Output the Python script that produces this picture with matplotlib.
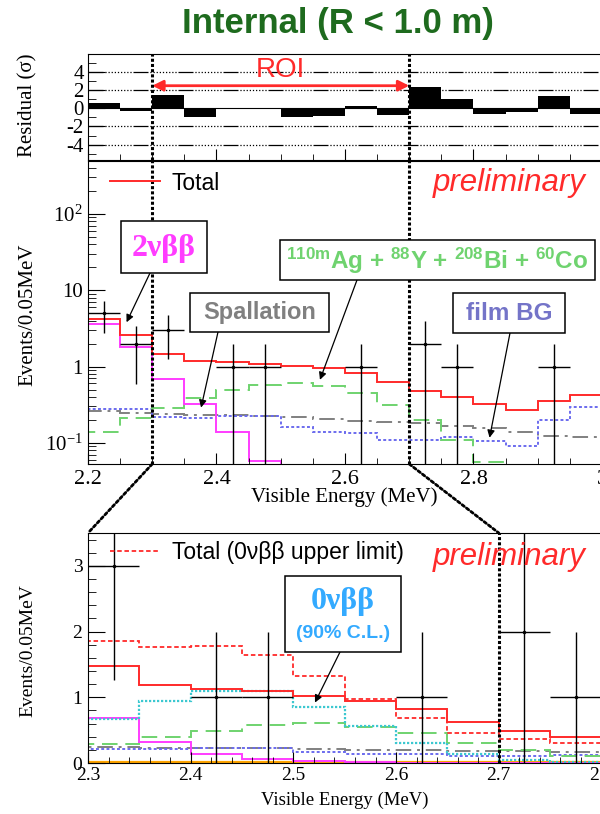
import numpy as np
import matplotlib.pyplot as plt
from matplotlib.patches import Rectangle, ConnectionPatch
from matplotlib.ticker import MultipleLocator, LogLocator, NullFormatter

plt.rcParams['font.family'] = ['Liberation Sans', 'DejaVu Sans']
plt.rcParams['mathtext.fontset'] = 'custom'
plt.rcParams['mathtext.rm'] = 'Liberation Serif'
plt.rcParams['mathtext.bf'] = 'Liberation Sans:bold'
plt.rcParams['mathtext.default'] = 'rm'
SERIF = ['Liberation Serif', 'DejaVu Serif']

# ---- data : 0.05 MeV bins, given by their low edge ----
bin_lo = [2.15, 2.20, 2.25, 2.30, 2.35, 2.40, 2.45, 2.50, 2.55,
          2.60, 2.65, 2.70, 2.75, 2.80, 2.85, 2.90, 2.95]
last_edge = 3.00
total_fit = [7.5, 4.2, 2.55, 1.48, 1.19, 1.13, 1.09, 1.02, 0.95,
             0.82, 0.63, 0.48, 0.40, 0.325, 0.27, 0.35, 0.42]
two_nu = [6.0, 3.6, 1.8, 0.69, 0.32, 0.14, 0.058, 0.025, 0.012,
          0.006, 0.003, 0.002, 0.001, 0.001, 0.001, 0.001, 0.001]
ag_y_bi_co = [0.07, 0.14, 0.21, 0.29, 0.39, 0.49, 0.58, 0.61, 0.55,
              0.45, 0.31, 0.20, 0.11, 0.056, 0.02, 0.01, 0.01]
spallation = [0.26, 0.26, 0.25, 0.24, 0.235, 0.23, 0.225, 0.22, 0.205,
              0.195, 0.19, 0.18, 0.165, 0.155, 0.14, 0.125, 0.12]
film_bg = [0.28, 0.28, 0.28, 0.22, 0.21, 0.225, 0.225, 0.16, 0.14,
           0.135, 0.11, 0.11, 0.12, 0.105, 0.092, 0.20, 0.295]

# 0vbb upper-limit fit (only in the zoomed panel), bins 2.25 .. 2.80
ul_lo = [2.25, 2.30, 2.35, 2.40, 2.45, 2.50, 2.55, 2.60, 2.65, 2.70, 2.75]
ul_last = 2.80
zero_nu_ul = [0.40, 0.67, 0.95, 1.10, 1.09, 0.85, 0.56, 0.30, 0.135, 0.05, 0.02]
total_ul = [2.75, 1.86, 1.76, 1.78, 1.65, 1.32, 0.97, 0.69, 0.46, 0.36, 0.305]
other_bg = [0.01, 0.01, 0.01, 0.01, 0.01, 0.01, 0.01, 0.01, 0.01, 0.01, 0.01]

# data points
data_e = [2.225, 2.275, 2.325, 2.425, 2.475, 2.625, 2.725, 2.775, 2.925]
data_n = [5, 2, 3, 1, 1, 1, 2, 1, 1]
err_dn = [2.24, 1.41, 1.73, 1.0, 1.0, 1.0, 2.0, 1.0, 1.0]
err_up = [2.24, 1.41, 1.73, 1.0, 1.0, 1.0, 1.9, 1.0, 1.0]

# residuals, bins 2.20 .. 2.95
resid = [0.64, -0.25, 1.5, -1.0, -0.05, -0.03, -1.0, -0.86,
         0.29, -0.68, 2.36, 1.07, -0.57, -0.43, 1.32, -0.57]

roi = (2.3, 2.7)

edges = bin_lo + [last_edge]
ul_edges = ul_lo + [ul_last]
res_centers = np.array(bin_lo[1:]) + 0.025

RED = '#ff2a2a'
PINK = '#ff3cff'
GREEN = '#6fd36f'
GRAY = '#808080'
BLUE = '#6b6bee'
CYAN = '#3cc8d0'

W, H = 600, 814
fx = lambda px: px / W
fy = lambda py: 1 - py / H

fig = plt.figure(figsize=(6, 8.14), dpi=100)
ax_res = fig.add_axes([fx(88), fy(160), 514 / W, (160 - 54) / H])
ax_mid = fig.add_axes([fx(88), fy(464), 514 / W, (464 - 161) / H])
ax_bot = fig.add_axes([fx(88), fy(763), 513.5 / W, (763 - 533) / H])

fig.text(fx(338), fy(24), 'Internal (R < 1.0 m)', fontsize=25, fontweight='bold',
         color='#1e6b1e', ha='center', va='center')

dotted_v = dict(color='k', lw=2.2, ls=(0, (1, 0.7)), zorder=4)

# ---- residual panel ----
ax_res.bar(res_centers, resid, width=0.05, color='k')
ax_res.axhline(0, color='k', lw=0.8)
grid_ls = (0, (12, 1.5) + (1, 1.5) * 9)
for lev in (-4, -2, 2, 4):
    ax_res.axhline(lev, color='k', lw=0.9, ls=grid_ls)
for x in roi:
    ax_res.axvline(x, **dotted_v)
ax_res.annotate('', xy=(roi[1], 2.5), xytext=(roi[0], 2.5),
                arrowprops=dict(arrowstyle='<|-|>', color=RED, lw=2,
                                mutation_scale=16, shrinkA=0, shrinkB=0))
ax_res.text(sum(roi) / 2, 4.2, 'ROI', color=RED, fontsize=20, ha='center', va='center')
ax_res.set_xlim(2.2, 3.0)
ax_res.set_ylim(-5.7, 6.0)
ax_res.set_yticks([-4, -2, 0, 2, 4])
ax_res.set_yticklabels(['-4', '-2', '0', '2', '4'])
ax_res.yaxis.set_minor_locator(MultipleLocator(1))
ax_res.xaxis.set_major_locator(MultipleLocator(0.2))
ax_res.xaxis.set_minor_locator(MultipleLocator(0.05))
ax_res.xaxis.set_major_formatter(NullFormatter())
ax_res.tick_params(axis='both', which='both', direction='in', labelfontfamily=SERIF)
ax_res.tick_params(axis='y', which='major', length=12, labelsize=15, pad=3)
ax_res.tick_params(axis='y', which='minor', length=6)
ax_res.tick_params(axis='x', which='major', length=8)
ax_res.tick_params(axis='x', which='minor', length=4)
ax_res.spines['right'].set_visible(False)
fig.text(fx(28), fy(105), 'Residual (σ)', rotation=90, fontsize=15,
         family=SERIF, ha='center', va='center')

# ---- middle (log) panel ----
ax_mid.set_yscale('log')
ax_mid.stairs(spallation, edges, baseline=None, color=GRAY, lw=1.4, ls=(0, (8, 3, 1.5, 3)))
ax_mid.stairs(film_bg, edges, baseline=None, color=BLUE, lw=1.4, ls=(0, (1.5, 1.2)))
ax_mid.stairs(ag_y_bi_co, edges, baseline=None, color=GREEN, lw=1.4, ls=(0, (8, 4)))
ax_mid.stairs(two_nu, edges, baseline=None, color=PINK, lw=1.4)
ax_mid.stairs(total_fit, edges, baseline=None, color=RED, lw=1.4, label='Total')
ax_mid.errorbar(data_e, data_n, xerr=0.025, yerr=[err_dn, err_up], fmt='.', ms=3,
                color='k', lw=1, capsize=0, zorder=5)
for x in roi:
    ax_mid.axvline(x, **dotted_v)
ax_mid.set_xlim(2.2, 3.0)
ax_mid.set_ylim(0.053, 490)
ax_mid.set_yticks([0.1, 1, 10, 100])
ax_mid.set_yticklabels([r'$10^{-1}$', '1', '10', r'$10^{2}$'])
ax_mid.yaxis.set_minor_locator(LogLocator(base=10, subs=np.arange(2, 10)))
ax_mid.yaxis.set_minor_formatter(NullFormatter())
ax_mid.set_xticks([2.2, 2.4, 2.6, 2.8, 3.0])
ax_mid.set_xticklabels(['2.2', '2.4', '2.6', '2.8', '3'])
ax_mid.xaxis.set_minor_locator(MultipleLocator(0.05))
ax_mid.tick_params(axis='both', which='both', direction='in', labelfontfamily=SERIF)
ax_mid.tick_params(axis='y', which='major', length=12, labelsize=15, pad=4)
ax_mid.tick_params(axis='y', which='minor', length=6)
ax_mid.tick_params(axis='x', which='major', length=8, labelsize=16, pad=4)
ax_mid.tick_params(axis='x', which='minor', length=4)
ax_mid.spines['right'].set_visible(False)
ax_mid.legend(loc='center left', bbox_to_anchor=(fx(110), fy(183)),
              bbox_transform=fig.transFigure, frameon=False, fontsize=16.5,
              handlelength=2.2, handletextpad=0.5, borderpad=0, borderaxespad=0)
fig.text(fx(433), fy(183), 'preliminary', color=RED, fontsize=22.5, style='italic',
         ha='left', va='center')
fig.text(fx(28), fy(315), 'Events/0.05MeV', rotation=90, fontsize=15,
         family=SERIF, ha='center', va='center')
fig.text(fx(344), fy(497), 'Visible Energy (MeV)', fontsize=15,
         family=SERIF, ha='center', va='center')

# ---- bottom (linear, zoomed) panel ----
ax_bot.stairs(other_bg, ul_edges, baseline=None, color='#ffa500', lw=1.6)
ax_bot.stairs(spallation[2:13], ul_edges, baseline=None, color=GRAY, lw=1.4, ls=(0, (8, 3, 1.5, 3)))
ax_bot.stairs(film_bg[2:13], ul_edges, baseline=None, color=BLUE, lw=1.4, ls=(0, (1.5, 1.2)))
ax_bot.stairs(ag_y_bi_co[2:13], ul_edges, baseline=None, color=GREEN, lw=1.4, ls=(0, (8, 4)))
ax_bot.stairs(two_nu[2:13], ul_edges, baseline=None, color=PINK, lw=1.4)
ax_bot.stairs(zero_nu_ul, ul_edges, baseline=None, color=CYAN, lw=1.6, ls=(0, (1, 0.8)))
ax_bot.stairs(total_fit[2:13], ul_edges, baseline=None, color=RED, lw=1.4)
ax_bot.stairs(total_ul, ul_edges, baseline=None, color=RED, lw=1.3, ls=(0, (2.5, 1.5)),
              label='Total (0νββ upper limit)')
ax_bot.errorbar(data_e, data_n, xerr=0.025, yerr=[err_dn, err_up], fmt='.', ms=3,
                color='k', lw=1, capsize=0, zorder=5)
ax_bot.axvline(roi[1], **dotted_v)
ax_bot.set_xlim(2.3, 2.8)
ax_bot.set_ylim(0, 3.5)
ax_bot.set_yticks([0, 1, 2, 3])
ax_bot.yaxis.set_minor_locator(MultipleLocator(0.2))
ax_bot.set_xticks([2.3, 2.4, 2.5, 2.6, 2.7, 2.8])
ax_bot.set_xticklabels(['2.3', '2.4', '2.5', '2.6', '2.7', '2.8'])
ax_bot.xaxis.set_minor_locator(MultipleLocator(0.02))
ax_bot.tick_params(axis='both', which='both', direction='in', labelfontfamily=SERIF)
ax_bot.tick_params(axis='y', which='major', length=12, labelsize=14, pad=4)
ax_bot.tick_params(axis='y', which='minor', length=6)
ax_bot.tick_params(axis='x', which='major', length=8, labelsize=14, pad=3)
ax_bot.tick_params(axis='x', which='minor', length=4)
ax_bot.spines['right'].set_visible(False)
ax_bot.legend(loc='center left', bbox_to_anchor=(fx(110), fy(553)),
              bbox_transform=fig.transFigure, frameon=False, fontsize=16.5,
              handlelength=2.2, handletextpad=0.5, borderpad=0, borderaxespad=0)
fig.text(fx(433), fy(557), 'preliminary', color=RED, fontsize=22.5, style='italic',
         ha='left', va='center')
fig.text(fx(28), fy(651), 'Events/0.05MeV', rotation=90, fontsize=14,
         family=SERIF, ha='center', va='center')
fig.text(fx(345), fy(800), 'Visible Energy (MeV)', fontsize=13.5,
         family=SERIF, ha='center', va='center')

# zoom connectors
for x in roi:
    con = ConnectionPatch(xyA=(x, 0.053), coordsA=ax_mid.transData,
                          xyB=(x, 3.5), coordsB=ax_bot.transData,
                          color='k', lw=2, ls=(0, (1, 1)))
    fig.add_artist(con)


# ---- labelled boxes with arrows ----
def box(x0, y0, x1, y1):
    fig.add_artist(Rectangle((fx(x0), fy(y1)), (x1 - x0) / W, (y1 - y0) / H,
                             transform=fig.transFigure, fc='white', ec='k', lw=1.1, zorder=6))


def arrow(ax, tip, start):
    ax.annotate('', xy=tip, xycoords='data', xytext=(fx(start[0]), fy(start[1])),
                textcoords='figure fraction', annotation_clip=False,
                arrowprops=dict(arrowstyle='-|>', color='k', lw=0.9,
                                mutation_scale=11, shrinkA=0, shrinkB=0))


box(121, 221, 207, 273)
fig.text(fx(164), fy(248), '2νββ', color=PINK, fontsize=23, fontweight='bold',
         family=SERIF, ha='center', va='center', zorder=7)
arrow(ax_mid, (2.26, 3.8), (150, 273))

box(280, 240, 595, 280)
fig.text(fx(437), fy(261),
         r'$\mathbf{^{110m}}$Ag + $\mathbf{^{88}}$Y + $\mathbf{^{208}}$Bi + $\mathbf{^{60}}$Co',
         color=GREEN, fontsize=17.5, fontweight='bold', ha='center', va='center', zorder=7)
arrow(ax_mid, (2.561, 0.67), (357, 280))

box(190, 293, 329, 332)
fig.text(fx(259.5), fy(313), 'Spallation', color=GRAY, fontsize=17, fontweight='bold',
         ha='center', va='center', zorder=7)
arrow(ax_mid, (2.376, 0.29), (218, 332))

box(453, 293, 565, 333)
fig.text(fx(509), fy(313), 'film BG', color='#7474c8', fontsize=17.5, fontweight='bold',
         ha='center', va='center', zorder=7)
arrow(ax_mid, (2.825, 0.117), (510, 333))

box(285, 576, 401, 652)
fig.text(fx(343), fy(602), '0νββ', color='#33aaff', fontsize=23, fontweight='bold',
         family=SERIF, ha='center', va='center', zorder=7)
fig.text(fx(343), fy(633), '(90% C.L.)', color='#33aaff', fontsize=14, fontweight='bold',
         ha='center', va='center', zorder=7)
arrow(ax_bot, (2.521, 0.92), (340, 652))

fig.savefig('out.png', dpi=100)
